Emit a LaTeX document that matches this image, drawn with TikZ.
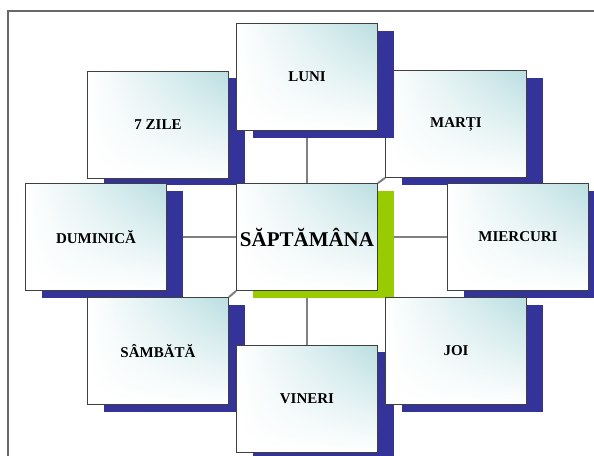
\documentclass[tikz,border=0pt]{standalone}
\usepackage{fontspec}
\setmainfont{Liberation Serif}
\usetikzlibrary{shadows,shadings,backgrounds}
\definecolor{shadowblue}{RGB}{51,51,153}
\definecolor{shadowgreen}{RGB}{153,204,0}
\definecolor{tealfill}{RGB}{186,222,225}
\definecolor{framegray}{RGB}{105,105,105}
\definecolor{edgegray}{RGB}{64,64,64}
\definecolor{linkgray}{RGB}{128,128,128}
\tikzset{
  daybox/.style={draw=edgegray, line width=0.9pt, shade,
    upper left=white, upper right=tealfill, lower left=white, lower right=white,
    minimum width=141pt, minimum height=107pt, inner sep=0pt,
    font=\fontsize{15}{18}\selectfont\bfseries, text=black,
    drop shadow={shadow xshift=16pt, shadow yshift=-7pt, fill=#1, opacity=1, draw=none}},
  daybox/.default=shadowblue,
  link/.style={draw=linkgray, line width=2pt},
}
\begin{document}
\begin{tikzpicture}[x=1pt,y=-1pt]
\useasboundingbox (0,0) rectangle (594,455);
\draw[framegray, line width=1.4pt] (8,470) -- (8,11) -- (610,11);
\node[daybox] (zile) at (158,124.5) {7 ZILE};
\node[daybox] (marti) at (456,124) {MARȚI};
\node[daybox] (luni) at (307,77) {LUNI};
\node[daybox] (dum) at (96,237) {DUMINICĂ};
\node[daybox=shadowgreen, font=\fontsize{21}{24}\selectfont\bfseries] (sapt) at (307,237) {SĂPTĂMÂNA};
\node[daybox] (mier) at (518,237) {MIERCURI};
\node[daybox] (samb) at (158,351) {SÂMBĂTĂ};
\node[daybox] (vin) at (307,398.5) {VINERI};
\node[daybox] (joi) at (456,351) {JOI};
\begin{scope}[on background layer]
\draw[link] (luni.south) -- (sapt.north);
\draw[link] (dum.east) -- (sapt.west);
\draw[link] (sapt.east) -- (mier.west);
\draw[link] (sapt.south) -- (vin.north);
\draw[link] (sapt.north east) -- (marti.south west);
\draw[link] (sapt.south west) -- (samb.north east);
\draw[link] (sapt.north west) -- (zile.south east);
\draw[link] (sapt.south east) -- (joi.north west);
\end{scope}
\end{tikzpicture}
\end{document}
